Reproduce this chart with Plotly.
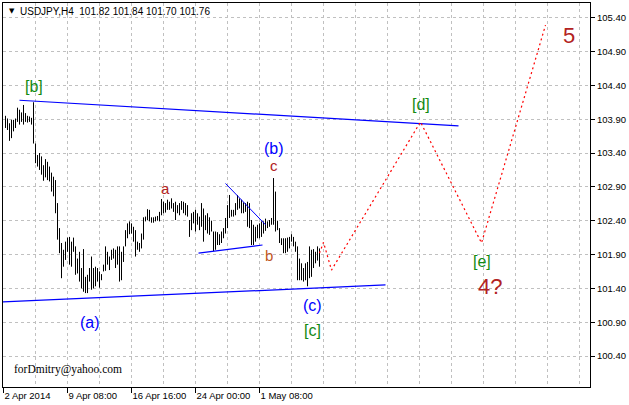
import plotly.graph_objects as go

# ---- data (bar index = H4 bar number, prices) ----
highs = [103.95, 103.91, 103.84, 103.89, 103.89, 103.91, 104.07, 104.04, 104.00, 104.11,
         103.99, 103.95, 103.94, 103.92, 104.15, 103.54, 103.37, 103.40, 103.35, 103.22,
         103.31, 103.27, 103.20, 103.11, 103.05, 103.00, 102.66, 102.29, 102.07, 101.97,
         102.09, 102.15, 102.16, 102.09, 102.15, 102.02, 101.84, 101.94, 101.70, 101.98,
         101.57, 101.60, 101.70, 101.87, 101.70, 101.72, 101.70, 101.65, 101.61, 101.75,
         102.02, 101.94, 101.87, 101.97, 101.99, 101.97, 102.02, 102.02, 101.94, 102.02,
         102.26, 102.36, 102.39, 102.36, 102.31, 102.26, 102.09, 102.07, 102.21, 102.45,
         102.46, 102.57, 102.56, 102.45, 102.45, 102.46, 102.47, 102.53, 102.72, 102.68,
         102.66, 102.71, 102.68, 102.73, 102.66, 102.68, 102.63, 102.66, 102.69, 102.68,
         102.66, 102.63, 102.41, 102.51, 102.53, 102.56, 102.51, 102.46, 102.66, 102.58,
         102.48, 102.51, 102.45, 102.40, 102.24, 102.24, 102.23, 102.20, 102.24, 102.29,
         102.44, 102.63, 102.78, 102.56, 102.56, 102.66, 102.78, 102.73, 102.71, 102.67,
         102.66, 102.68, 102.66, 102.41, 102.34, 102.31, 102.34, 102.36, 102.39, 102.39,
         102.43, 102.39, 102.41, 102.44, 103.03, 102.83, 102.40, 102.29, 102.14, 102.14,
         102.14, 102.15, 102.16, 102.20, 102.16, 102.09, 102.02, 101.84, 101.77, 101.70,
         101.77, 101.79, 102.02, 101.97, 101.98, 101.94, 102.02, 101.99]
lows = [103.77, 103.74, 103.58, 103.62, 103.72, 103.77, 103.86, 103.82, 103.86, 103.82,
        103.86, 103.85, 103.86, 103.82, 103.54, 103.25, 103.20, 103.15, 103.08, 102.99,
        103.04, 103.00, 102.98, 102.83, 102.76, 102.51, 102.12, 101.92, 101.55, 101.72,
        101.82, 101.94, 101.75, 101.72, 101.94, 101.60, 101.62, 101.50, 101.40, 101.35,
        101.33, 101.33, 101.50, 101.38, 101.40, 101.43, 101.50, 101.41, 101.52, 101.65,
        101.66, 101.75, 101.67, 101.82, 101.84, 101.70, 101.75, 101.50, 101.52, 101.79,
        102.02, 102.14, 102.20, 102.21, 102.09, 101.87, 101.97, 101.94, 101.99, 102.12,
        102.39, 102.41, 102.39, 102.37, 102.37, 102.39, 102.40, 102.39, 102.48, 102.51,
        102.52, 102.56, 102.56, 102.58, 102.53, 102.41, 102.51, 102.48, 102.56, 102.51,
        102.48, 102.46, 102.16, 102.26, 102.36, 102.24, 102.34, 102.26, 102.31, 102.09,
        102.26, 102.21, 102.19, 102.24, 101.95, 101.97, 102.04, 102.04, 102.07, 102.14,
        102.21, 102.29, 102.44, 102.46, 102.46, 102.48, 102.56, 102.58, 102.51, 102.51,
        102.53, 102.31, 102.29, 102.04, 102.04, 102.09, 102.14, 102.14, 102.16, 102.21,
        102.25, 102.29, 102.31, 102.34, 102.34, 102.24, 102.26, 102.07, 102.04, 101.92,
        101.92, 101.94, 101.99, 102.09, 102.02, 101.94, 101.52, 101.52, 101.52, 101.50,
        101.52, 101.43, 101.55, 101.57, 101.70, 101.77, 101.81, 101.72]

date_tick_bars = [-1, 31, 63, 95, 127]
date_tick_labels = ["2 Apr 2014", "9 Apr 08:00", "16 Apr 16:00", "24 Apr 00:00", "1 May 08:00"]
price_ticks = [100.40, 100.90, 101.40, 101.90, 102.40, 102.90, 103.40, 103.90, 104.40, 104.90, 105.40]
price_tick_labels = ["100.40", "100.90", "101.40", "101.90", "102.40", "102.90",
                     "103.40", "103.90", "104.40", "104.90", "105.40"]

# trend lines (bar index, price)
upper_line_x = [7, 226.5]
upper_line_y = [104.18, 103.80]
lower_line_x = [-1.25, 190]
lower_line_y = [101.20, 101.45]
tri_upper_x = [110, 130]
tri_upper_y = [102.95, 102.34]
tri_lower_x = [96.5, 128.5]
tri_lower_y = [101.92, 102.04]
forecast_x = [157, 159, 163, 207.5, 238, 270]
forecast_y = [101.92, 102.08, 101.67, 103.86, 102.07, 105.29]

# wave labels: text, bar index, price, colour, size
wave_labels = [
    ("[b]", 14, 104.39, "#128a12", 16),
    ("(a)", 42, 100.90, "#0000ff", 16),
    ("a", 80, 102.88, "#b22222", 15),
    ("(b)", 134, 103.47, "#0000ff", 16),
    ("c", 134, 103.21, "#b22222", 15),
    ("b", 131.5, 101.88, "#c0561e", 15),
    ("(c)", 153.5, 101.14, "#0000ff", 16),
    ("[c]", 153.5, 100.78, "#128a12", 16),
    ("[d]", 207.5, 104.12, "#128a12", 16),
    ("[e]", 238, 101.79, "#128a12", 16),
    ("4?", 242, 101.43, "#b22222", 22),
    ("5", 281.5, 105.13, "#b22222", 22),
]

# ---- build figure ----
seg_x, seg_y = [], []
for i, (h, l) in enumerate(zip(highs, lows)):
    seg_x += [i, i, None]
    seg_y += [l, h, None]

fig = go.Figure()
fig.add_trace(go.Scatter(x=seg_x, y=seg_y, mode="lines",
                         line=dict(color="black", width=1), hoverinfo="skip"))

def add_line(xs, ys, color, width, dash="solid"):
    fig.add_trace(go.Scatter(x=xs, y=ys, mode="lines",
                             line=dict(color=color, width=width, dash=dash), hoverinfo="skip"))

add_line(upper_line_x, upper_line_y, "#0000ff", 1.2)
add_line(lower_line_x, lower_line_y, "#0000ff", 1.2)
add_line(tri_upper_x, tri_upper_y, "#0000ff", 1)
add_line(tri_lower_x, tri_lower_y, "#0000ff", 1.1)
add_line(forecast_x, forecast_y, "#ff0000", 1.2, "2px,3px")

for text, bx, py, col, sz in wave_labels:
    fig.add_annotation(x=bx, y=py, text=text, showarrow=False,
                       font=dict(family="Liberation Sans, Arial", size=sz, color=col),
                       xanchor="center", yanchor="middle")

# header and watermark
fig.add_annotation(xref="paper", yref="paper", x=0.0075, y=0.979, text="▼", showarrow=False,
                   font=dict(family="DejaVu Sans", size=7, color="black"), xanchor="left", yanchor="middle")
fig.add_annotation(xref="paper", yref="paper", x=0.0256, y=0.979,
                   text="USDJPY,H4\u00a0\u00a0101.82 101.84 101.70 101.76", showarrow=False,
                   font=dict(family="Liberation Sans, Arial", size=10, color="black"),
                   xanchor="left", yanchor="middle")
fig.add_annotation(xref="paper", yref="paper", x=0.0153, y=0.0443, text="forDmitry@yahoo.com",
                   showarrow=False, font=dict(family="Liberation Serif, Times New Roman", size=11.5, color="black"),
                   xanchor="left", yanchor="middle")

fig.update_layout(
    width=629, height=405,
    margin=dict(l=3, r=39, t=3, b=18),
    paper_bgcolor="white", plot_bgcolor="white",
    showlegend=False,
    xaxis=dict(range=[-1.25, 292.25], tickmode="array", tickvals=date_tick_bars, ticktext=date_tick_labels,
               ticks="outside", ticklen=5, tickcolor="black", ticklabelposition="outside right",
               tickfont=dict(family="Liberation Sans, Arial", size=9.5, color="black"),
               showgrid=True, gridcolor="#c0c0c0", griddash="3px,3px", gridwidth=1,
               minor=dict(tickmode="linear", tick0=-1, dtick=16, showgrid=True, gridcolor="#c0c0c0",
                          griddash="3px,3px", gridwidth=1, ticks=""),
               showline=True, linecolor="black", linewidth=1, mirror=True,
               zeroline=False, automargin=False, fixedrange=True),
    yaxis=dict(range=[99.942, 105.617], side="right", tickmode="array", tickvals=price_ticks,
               ticktext=price_tick_labels, ticks="outside", ticklen=4, tickcolor="black",
               tickfont=dict(family="Liberation Sans, Arial", size=9.5, color="black"),
               showgrid=True, gridcolor="#c0c0c0", griddash="3px,3px", gridwidth=1,
               showline=True, linecolor="black", linewidth=1, mirror=True,
               zeroline=False, automargin=False, fixedrange=True),
)

fig.write_html("out.html", config={"displayModeBar": False},
               post_script="document.body.style.margin='0';document.body.style.overflow='hidden';")
